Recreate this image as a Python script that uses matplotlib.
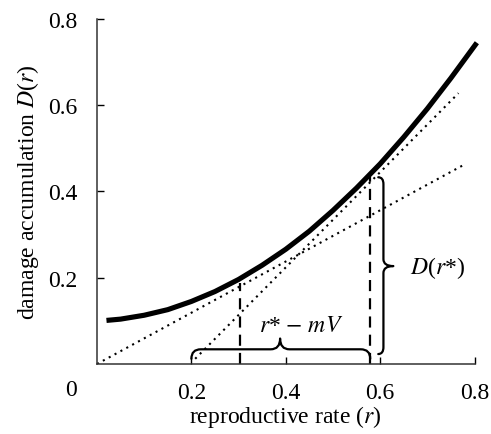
import matplotlib
matplotlib.use('Agg')
import matplotlib.pyplot as plt
from matplotlib.path import Path
from matplotlib.patches import PathPatch

plt.rcParams['font.family'] = ['Liberation Serif', 'DejaVu Serif']
plt.rcParams['mathtext.fontset'] = 'stix'

# damage accumulation curve D(r)
r_vals = [0.02, 0.05, 0.10, 0.15, 0.20, 0.25, 0.30, 0.35, 0.40,
          0.45, 0.50, 0.55, 0.60, 0.65, 0.70, 0.75, 0.805]
d_vals = [0.101, 0.104, 0.113, 0.126, 0.145, 0.168, 0.196, 0.229, 0.266,
          0.308, 0.356, 0.408, 0.464, 0.526, 0.592, 0.663, 0.745]

# dotted tangent lines (end points)
tan1_r = [0.0, 0.776]
tan1_d = [0.0, 0.461]
tan2_r = [0.208, 0.766]
tan2_d = [0.012, 0.628]

# dashed drop lines
drop_r = [0.303, 0.579]
drop_d = [0.187, 0.433]

# braces
hbrace_r = [0.2, 0.579]     # r* - mV span
vbrace_d = [0.023, 0.433]   # D(r*) span
vbrace_r = 0.607

xticks = [0.2, 0.4, 0.6, 0.8]
yticks = [0.2, 0.4, 0.6, 0.8]

FS = 17


def brace(ax, start, end, base, depth, tip, mid=None, d=0.02, vertical=False, lw=1.6):
    # curly brace built from quadratic curves, ends at 'base', body at base+depth
    if mid is None:
        mid = (start + end) / 2
    m = base + depth
    t = base + tip
    pts = [(start, base), (start, m), (start + d, m),
           (mid - d, m), (mid, m), (mid, t),
           (mid, m), (mid + d, m),
           (end - d, m), (end, m), (end, base)]
    codes = [Path.MOVETO, Path.CURVE3, Path.CURVE3,
             Path.LINETO, Path.CURVE3, Path.CURVE3,
             Path.CURVE3, Path.CURVE3,
             Path.LINETO, Path.CURVE3, Path.CURVE3]
    if vertical:
        pts = [(b, a) for a, b in pts]
    ax.add_patch(PathPatch(Path(pts, codes), fill=False, lw=lw, color='black',
                           capstyle='round', joinstyle='round', clip_on=False))


fig = plt.figure(figsize=(4.91, 4.35), dpi=100)
ax = fig.add_axes([0.1976, 0.161, 0.7688, 0.793])

ax.plot(r_vals, d_vals, color='black', lw=3.7, solid_capstyle='butt',
        solid_joinstyle='round', clip_on=False, zorder=5)
ax.plot(tan1_r, tan1_d, color='black', lw=1.5, linestyle=(0, (1, 2.2)))
ax.plot(tan2_r, tan2_d, color='black', lw=1.5, linestyle=(0, (1, 2.2)))
for r, d in zip(drop_r, drop_d):
    ax.plot([r, r], [0, d], color='black', lw=1.6, linestyle=(0, (5, 3.2)))

brace(ax, hbrace_r[0], hbrace_r[1], 0.012, 0.022, 0.047, mid=0.388, d=0.02)
brace(ax, vbrace_d[0], vbrace_d[1], 0.596, 0.011, 0.032, mid=0.227, d=0.016,
      vertical=True)

ax.text(0.433, 0.09, r'$r$* $-$ $mV$', fontsize=FS, ha='center', va='center')
ax.text(0.664, 0.224, r'$D$($r$*)', fontsize=FS, ha='left', va='center')

ax.set_xlim(0, 0.8)
ax.set_ylim(0, 0.8)
ax.set_xticks(xticks)
ax.set_yticks(yticks)
ax.set_xticklabels([f'{v:.1f}' for v in xticks])
ax.set_yticklabels([f'{v:.1f}' for v in yticks])
ax.tick_params(direction='in', length=5, width=1, labelsize=FS, pad=13)
ax.tick_params(axis='y', pad=14)
ax.annotate('0', xy=(0, 0), xycoords='data', xytext=(-26, -26),
            textcoords='offset pixels', ha='center', va='center', fontsize=FS)

for side in ['top', 'right']:
    ax.spines[side].set_visible(False)
for side in ['left', 'bottom']:
    ax.spines[side].set_linewidth(1.1)
    ax.spines[side].set_color('#333333')

ax.set_xlabel('reproductive rate ($r$)', fontsize=FS, labelpad=0)
ax.set_ylabel('damage accumulation $D$($r$)', fontsize=FS, labelpad=5)

fig.savefig('out.png', dpi=100)
